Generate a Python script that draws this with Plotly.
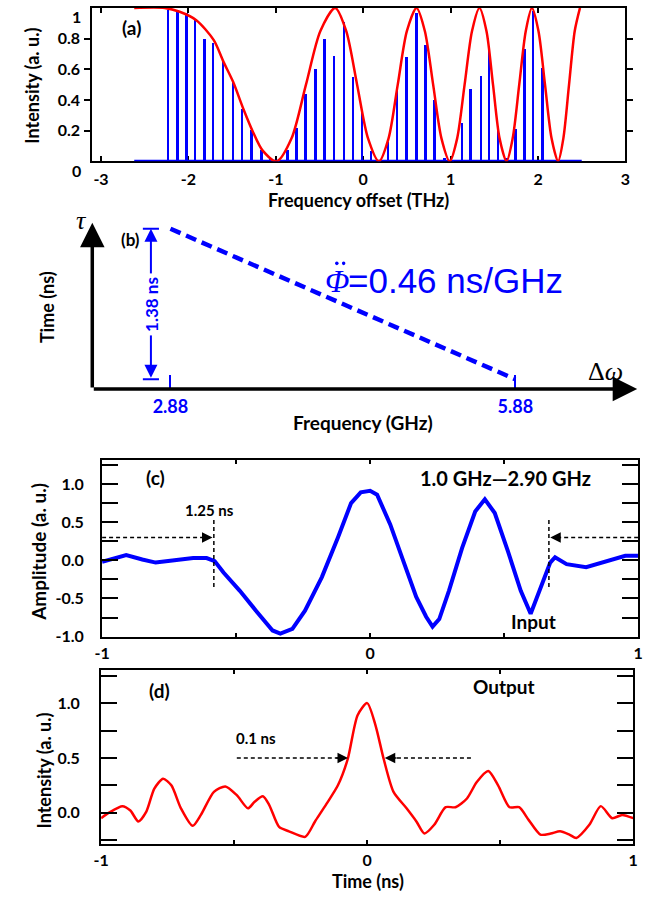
import plotly.graph_objects as go

W, H = 651, 901
BLUE = "#0000ff"
RED = "#ff0000"
FONT = "Lato"


def px(x):
    return x / W


def py(y):
    return 1 - y / H


# ---------------- (a) comb spectrum and filter envelope ----------------
comb_freq = [-2.226, -2.118, -2.017, -1.916, -1.81, -1.71, -1.598, -1.486, -1.38, -1.27,
             -1.16, -1.06, -0.96, -0.861, -0.755, -0.652, -0.54, -0.436, -0.328, -0.215,
             -0.11, -0.009, 0.092, 0.19, 0.289, 0.394, 0.50, 0.618, 0.72, 0.824,
             0.935, 1.035, 1.138, 1.235, 1.354, 1.448, 1.545, 1.645, 1.746, 1.85,
             1.95, 2.057]
comb_int = [0.99, 0.985, 0.97, 0.925, 0.80, 0.775, 0.655, 0.515, 0.345, 0.205,
            0.075, 0.02, 0.01, 0.075, 0.215, 0.44, 0.605, 0.80, 0.69, 0.91,
            0.55, 0.32, 0.065, 0.01, 0.13, 0.46, 0.68, 0.97, 0.76, 0.40,
            0.02, 0.01, 0.25, 0.47, 0.555, 0.73, 0.205, 0.02, 0.21, 0.735,
            0.98, 0.61]
baseline_freq = [-2.62, 2.5]
baseline_int = [0.0, 0.0]

env_freq = [-2.62, -2.27, -2.10, -1.91, -1.71, -1.60, -1.49, -1.37, -1.26, -1.15,
            -0.99, -0.82, -0.655, -0.49, -0.32, -0.195, -0.07, 0.055, 0.18, 0.29,
            0.395, 0.50, 0.61, 0.705, 0.80, 0.895, 0.99, 1.075, 1.16, 1.245,
            1.33, 1.41, 1.485, 1.56, 1.64, 1.71, 1.785, 1.86, 1.93, 2.005,
            2.08, 2.155, 2.23, 2.29, 2.355, 2.42, 2.48]
env_int = [1.0, 1.0, 0.975, 0.92, 0.79, 0.65, 0.52, 0.34, 0.19, 0.07,
           0.0, 0.15, 0.5, 0.85, 1.0, 0.85, 0.5, 0.15, 0.0, 0.15,
           0.5, 0.85, 1.0, 0.85, 0.5, 0.15, 0.0, 0.15, 0.5, 0.85,
           1.0, 0.85, 0.5, 0.15, 0.0, 0.15, 0.5, 0.85, 1.0, 0.85,
           0.5, 0.15, 0.0, 0.15, 0.5, 0.85, 1.0]
a_xticks = [-3, -2, -1, 0, 1, 2, 3]
a_xticktext = ["-3", "-2", "-1", "0", "1", "2", "3"]
a_yticks = [0.2, 0.4, 0.6, 0.8]

# ---------------- (b) group-delay dispersion ----------------
disp_freq = [2.88, 5.88]     # GHz
disp_delay = [1.38, 0.0]     # ns
disp_slope = 0.46            # ns/GHz
b_freq_range = [2.2, 6.94]
b_delay_range = [-0.09, 1.435]

# ---------------- (c) input waveform ----------------
in_t = [-1.0, -0.91, -0.85, -0.80, -0.73, -0.66, -0.61, -0.58, -0.547, -0.486,
        -0.426, -0.364, -0.335, -0.29, -0.243, -0.18, -0.12, -0.071, -0.035, 0.0,
        0.026, 0.075, 0.124, 0.172, 0.209, 0.233, 0.258, 0.294, 0.343, 0.392,
        0.428, 0.465, 0.514, 0.562, 0.599, 0.636, 0.672, 0.69, 0.733, 0.806,
        0.879, 0.952, 1.0]
in_amp = [-0.02, 0.07, 0.01, -0.03, 0.0, 0.03, 0.03, -0.01, -0.16, -0.40,
          -0.66, -0.92, -0.96, -0.90, -0.66, -0.22, 0.30, 0.75, 0.89, 0.91,
          0.86, 0.47, -0.01, -0.48, -0.74, -0.87, -0.77, -0.40, 0.16, 0.64,
          0.80, 0.62, 0.12, -0.40, -0.70, -0.35, -0.03, 0.04, -0.05, -0.09,
          -0.01, 0.06, 0.06]
pulse_start = -0.583   # ns
pulse_len = 1.25       # ns

# ---------------- (d) compressed output ----------------
out_t = [-1.0, -0.97, -0.92, -0.89, -0.86, -0.83, -0.80, -0.767, -0.736, -0.70,
         -0.656, -0.625, -0.576, -0.533, -0.49, -0.448, -0.423, -0.392, -0.368, -0.331,
         -0.294, -0.233, -0.196, -0.153, -0.11, -0.073, -0.036, 0.0, 0.031, 0.062,
         0.099, 0.148, 0.185, 0.215, 0.252, 0.295, 0.332, 0.375, 0.412, 0.455,
         0.492, 0.535, 0.571, 0.608, 0.651, 0.69, 0.725, 0.76, 0.786, 0.835,
         0.878, 0.921, 0.958, 1.0]
out_int = [-0.05, 0.0, 0.06, 0.02, -0.08, 0.01, 0.22, 0.31, 0.25, 0.04,
           -0.12, -0.02, 0.19, 0.24, 0.16, 0.04, 0.10, 0.15, 0.07, -0.13,
           -0.17, -0.22, -0.08, 0.08, 0.25, 0.49, 0.89, 1.0, 0.80, 0.49,
           0.19, 0.04, -0.08, -0.19, -0.11, 0.05, 0.05, 0.13, 0.28, 0.38,
           0.25, 0.05, 0.05, -0.07, -0.20, -0.19, -0.17, -0.20, -0.23, -0.11,
           0.06, -0.05, -0.02, -0.05]
fwhm_left, fwhm_right = -0.072, 0.066

t_ticks = [-1, -0.5, 0, 0.5, 1]
t_ticktext = ["-1", "", "0", "", "1"]
c_yticks = [-1.0, -0.75, -0.5, -0.25, 0.0, 0.25, 0.5, 0.75, 1.0, 1.25]
c_yticktext = ["-1.0", "", "-0.5", "", "0.0", "", "0.5", "", "1.0", ""]
d_yticks = [-0.25, 0.0, 0.25, 0.5, 0.75, 1.0, 1.25]
d_yticktext = ["", "0.0", "", "0.5", "", "1.0", ""]

fig = go.Figure()

# (a)
fig.add_trace(go.Bar(x=comb_freq, y=comb_int, width=0.022,
                     marker=dict(color=BLUE, line=dict(width=0)),
                     xaxis="x", yaxis="y"))
fig.add_trace(go.Scatter(x=baseline_freq, y=baseline_int, mode="lines",
                         line=dict(color=BLUE, width=3), xaxis="x", yaxis="y"))
fig.add_trace(go.Scatter(x=env_freq, y=env_int, mode="lines",
                         line=dict(color=RED, width=2.5, shape="spline", smoothing=0.8),
                         xaxis="x", yaxis="y"))

# (b)
fig.add_trace(go.Scatter(x=disp_freq, y=disp_delay, mode="lines",
                         line=dict(color=BLUE, width=4.5, dash="11px,6px"),
                         xaxis="x2", yaxis="y2"))

# (c)
fig.add_trace(go.Scatter(x=in_t, y=in_amp, mode="lines",
                         line=dict(color=BLUE, width=4),
                         xaxis="x3", yaxis="y3"))

# (d)
fig.add_trace(go.Scatter(x=out_t, y=out_int, mode="lines",
                         line=dict(color=RED, width=2.5, shape="spline", smoothing=0.7),
                         xaxis="x4", yaxis="y4"))

bold16 = dict(family=FONT, size=16, color="black", weight="bold")
box = dict(showline=True, linecolor="black", linewidth=2, mirror="ticks",
           showgrid=False, zeroline=False, tickcolor="black", tickwidth=2)

fig.update_layout(
    width=W, height=H, margin=dict(l=0, r=0, t=0, b=0),
    paper_bgcolor="white", plot_bgcolor="white", showlegend=False,
    bargap=0,
    xaxis=dict(domain=[px(86), px(630)], range=[-3.1, 3.0], anchor="y",
               tickvals=a_xticks, ticktext=a_xticktext, ticks="inside", ticklen=5,
               tickfont=bold16, ticklabelstandoff=2, layer="below traces", **box),
    yaxis=dict(domain=[py(163), py(8)], range=[0, 1], anchor="x",
               tickvals=a_yticks, ticks="outside", ticklen=6, tickfont=bold16,
               ticklabelstandoff=1, **box),
    xaxis2=dict(domain=[px(86), px(642)], range=b_freq_range, anchor="y2",
                showline=False, showgrid=False, zeroline=False,
                tickvals=disp_freq, ticktext=[f"{v:.2f}" for v in disp_freq],
                ticks="inside", ticklen=14, tickwidth=1.5, tickcolor=BLUE,
                tickfont=dict(family=FONT, size=18, color=BLUE, weight="bold"),
                ticklabelstandoff=5),
    yaxis2=dict(domain=[py(393), py(225)], range=b_delay_range, anchor="x2",
                visible=False),
    xaxis3=dict(domain=[px(96), px(643)], range=[-1, 1], anchor="y3",
                tickvals=t_ticks, ticktext=t_ticktext, ticks="inside", ticklen=4,
                tickfont=bold16, ticklabelstandoff=1, **box),
    yaxis3=dict(domain=[py(643), py(465)], range=[-1.0, 1.31], anchor="x3",
                tickvals=c_yticks, ticktext=c_yticktext, ticks="inside", ticklen=16,
                tickfont=bold16, ticklabelstandoff=13, **box),
    xaxis4=dict(domain=[px(95), px(638)], range=[-1, 1], anchor="y4",
                tickvals=t_ticks, ticktext=t_ticktext, ticks="inside", ticklen=4,
                tickfont=bold16, ticklabelstandoff=0, **box),
    yaxis4=dict(domain=[py(853), py(677)], range=[-0.29, 1.30], anchor="x4",
                tickvals=d_yticks, ticktext=d_yticktext, ticks="inside", ticklen=16,
                tickfont=bold16, ticklabelstandoff=16, **box),
)

ann = []


def text(x, y, s, size=18, color="black", angle=0, bold=True, family=FONT,
         xanchor="center", italic=False, bg=None):
    ann.append(dict(x=px(x), y=py(y), xref="paper", yref="paper", text=s,
                    showarrow=False, textangle=angle, xanchor=xanchor, yanchor="middle",
                    bgcolor=bg, borderpad=0,
                    font=dict(family=family, size=size, color=color,
                              weight="bold" if bold else "normal",
                              style="italic" if italic else "normal")))


# axis titles
text(25, 87, "Intensity (a. u.)", 18, angle=-90)
text(358, 202, "Frequency offset (THz)", 18)
text(40, 310, "Time (ns)", 18, angle=-90)
text(362, 427, "Frequency (GHz)", 19)
text(31, 557, "Amplitude (a. u.)", 19, angle=-90)
text(37, 778, "Intensity (a. u.)", 18, angle=-90)
text(367, 890, "Time (ns)", 18)

# end labels of the (a) intensity axis
text(70, 17, "1", 16)
text(70, 172, "0", 16)

# panel tags and notes
text(126, 28, "(a)", 19)
text(125, 242, "(b)", 17)
text(150, 482, "(c)", 19)
text(155, 697, "(d)", 19)
text(206, 515, "1.25 ns", 15)
text(508, 483, "1.0 GHz\u20142.90 GHz", 20)
text(536, 628, "Input", 19)
text(253, 745, "0.1 ns", 15)
text(506, 693, "Output", 19)

# (b) symbols
text(75, 223, "\u03c4", 26, bold=False, family="Liberation Serif", italic=True)
ann.append(dict(x=px(590), y=py(375), xref="paper", yref="paper",
                text="\u0394<i>\u03c9</i>", showarrow=False, xanchor="left",
                yanchor="middle",
                font=dict(family="Liberation Serif", size=26, color="black")))
text(336, 284, "\u03a6", 32, color=BLUE, bold=False, family="Liberation Serif",
     italic=True)
text(346, 283, f"={disp_slope:.2f} ns/GHz", 35, color=BLUE, bold=False,
     family="Liberation Sans", xanchor="left")

shapes = []
# second-derivative dots over the phase symbol
for dot_x in (335.5, 342.5):
    shapes.append(dict(type="circle", xref="paper", yref="paper",
                       x0=px(dot_x - 1.8), x1=px(dot_x + 1.8),
                       y0=py(266 + 1.8), y1=py(266 - 1.8),
                       fillcolor=BLUE, line=dict(width=0)))

# (b) axis arrows
ax_arrow = dict(xref="x2", yref="y2", axref="x2", ayref="y2", text="", showarrow=True,
                arrowhead=2, arrowsize=1.4, arrowwidth=3.5, arrowcolor="black")
ann.append(dict(x=b_freq_range[1], y=b_delay_range[0],
                ax=b_freq_range[0], ay=b_delay_range[0], **ax_arrow))
ann.append(dict(x=b_freq_range[0], y=b_delay_range[1],
                ax=b_freq_range[0], ay=b_delay_range[0], **ax_arrow))

# (b) delay span double arrow
x_span = disp_freq[0] - 0.17
ann.append(dict(x=x_span, y=disp_delay[0], ax=x_span, ay=disp_delay[1],
                xref="x2", yref="y2", axref="x2", ayref="y2", text="",
                showarrow=True, arrowside="end+start", arrowhead=2, startarrowhead=2,
                arrowsize=1.3, startarrowsize=1.3, arrowwidth=2, arrowcolor=BLUE))
ann.append(dict(x=x_span, y=(disp_delay[0] + disp_delay[1]) / 2, xref="x2", yref="y2",
                text=f"{disp_delay[0] - disp_delay[1]:.2f} ns", showarrow=False,
                textangle=-90, bgcolor="white", borderpad=3,
                font=dict(family=FONT, size=17, color=BLUE, weight="bold")))

for d in disp_delay:
    shapes.append(dict(type="line", xref="x2", yref="y2", x0=x_span - 0.07,
                       x1=x_span + 0.07, y0=d, y1=d, line=dict(color=BLUE, width=2)))

# (c) pulse window markers
pulse_end = pulse_start + pulse_len
for xv in (pulse_start, pulse_end):
    shapes.append(dict(type="line", xref="x3", yref="y3", x0=xv, x1=xv, y0=-0.35,
                       y1=0.53, line=dict(color="black", width=1.5, dash="4px,3px")))
shapes.append(dict(type="line", xref="x3", yref="y3", x0=-1.0, x1=pulse_start - 0.03,
                   y0=0.30, y1=0.30, line=dict(color="black", width=1.5, dash="4px,3px")))
shapes.append(dict(type="line", xref="x3", yref="y3", x0=1.0, x1=pulse_end + 0.03,
                   y0=0.30, y1=0.30, line=dict(color="black", width=1.5, dash="4px,3px")))

# (d) width markers
shapes.append(dict(type="line", xref="x4", yref="y4", x0=-0.49, x1=fwhm_left - 0.03,
                   y0=0.5, y1=0.5, line=dict(color="black", width=1.5, dash="4px,3px")))
shapes.append(dict(type="line", xref="x4", yref="y4", x0=0.39, x1=fwhm_right + 0.03,
                   y0=0.5, y1=0.5, line=dict(color="black", width=1.5, dash="4px,3px")))

head = dict(text="", showarrow=True, arrowhead=2, arrowsize=1.4, arrowwidth=1.5,
            arrowcolor="black")
ann.append(dict(x=pulse_start - 0.005, y=0.30, ax=pulse_start - 0.05, ay=0.30,
                xref="x3", yref="y3", axref="x3", ayref="y3", **head))
ann.append(dict(x=pulse_end + 0.005, y=0.30, ax=pulse_end + 0.05, ay=0.30,
                xref="x3", yref="y3", axref="x3", ayref="y3", **head))
ann.append(dict(x=fwhm_left, y=0.5, ax=fwhm_left - 0.05, ay=0.5,
                xref="x4", yref="y4", axref="x4", ayref="y4", **head))
ann.append(dict(x=fwhm_right, y=0.5, ax=fwhm_right + 0.05, ay=0.5,
                xref="x4", yref="y4", axref="x4", ayref="y4", **head))

fig.update_layout(annotations=ann, shapes=shapes)
fig.write_html("out.html")
